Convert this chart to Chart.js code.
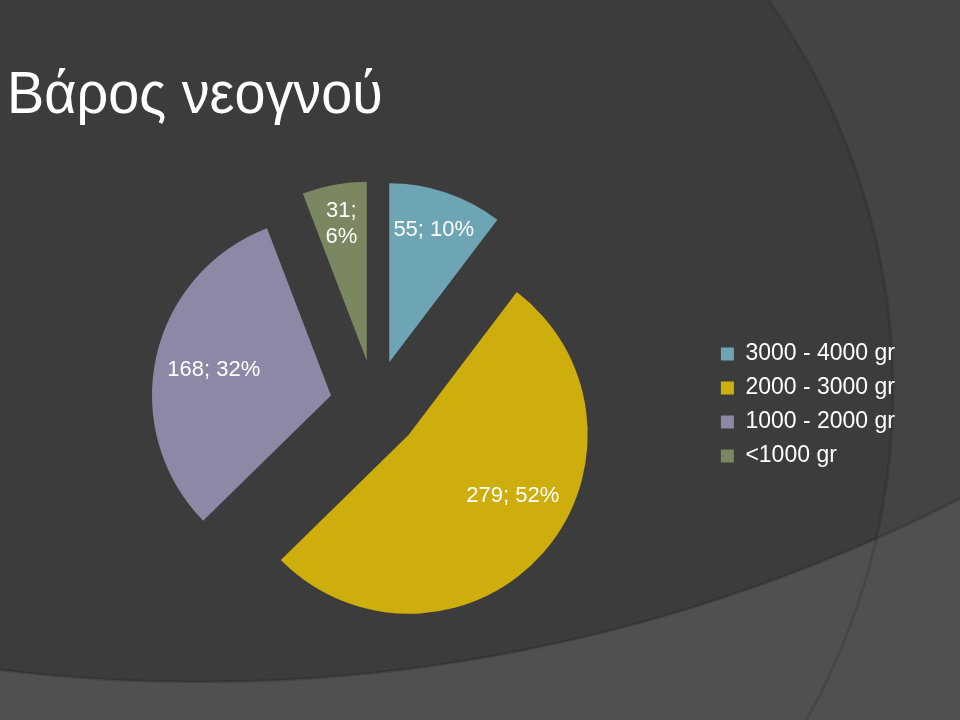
<!DOCTYPE html>
<html lang="el">
<head>
    <meta charset="UTF-8">
    <title>Βάρος νεογνού</title>
    <script src="https://cdn.jsdelivr.net/npm/chart.js"></script>
    <style>
        html, body {
            margin: 0;
            padding: 0;
            width: 960px;
            height: 720px;
            overflow: hidden;
            background-color: #3c3c3c;
        }
        .slide {
            position: relative;
            width: 960px;
            height: 720px;
        }
        #weightChart {
            position: absolute;
            left: 0;
            top: 0;
        }
        h1 {
            position: absolute;
            left: 7px;
            top: 63px;
            margin: 0;
            font: normal 60px/60px 'Liberation Sans', Arial, sans-serif;
            color: #fff;
            transform: scaleX(0.93);
            transform-origin: left top;
        }
    </style>
</head>
<body>
    <div class="slide">
        <canvas id="weightChart" width="960" height="720"></canvas>
        <h1>Βάρος νεογνού</h1>
    </div>
    <script>
        // data
        const categories = ['3000 - 4000 gr', '2000 - 3000 gr', '1000 - 2000 gr', '<1000 gr'];
        const births = [55, 279, 168, 31];
        const sliceColors = ['#6ea5b5', '#ceae0c', '#8c88a6', '#7a8760'];

        const EXPLODE = 45; // how far each slice is pulled out
        const FONT = "'Liberation Sans', Arial, sans-serif";

        // pie slice that is drawn pulled out along its middle angle
        class ExplodedArc extends Chart.ArcElement {
            draw(ctx) {
                const mid = (this.startAngle + this.endAngle) / 2;
                ctx.save();
                ctx.translate(Math.cos(mid) * EXPLODE, Math.sin(mid) * EXPLODE);
                super.draw(ctx);
                ctx.restore();
            }
        }
        ExplodedArc.id = 'explodedArc';

        class ExplodedPie extends Chart.PieController {}
        ExplodedPie.id = 'explodedPie';
        ExplodedPie.defaults = { dataElementType: 'explodedArc' };

        Chart.register(ExplodedArc, ExplodedPie);

        // slide background with the sweeping arcs
        const slideBackground = {
            id: 'slideBackground',
            beforeDraw(chart) {
                const { ctx, width, height } = chart;
                ctx.save();
                ctx.fillStyle = '#505050';
                ctx.fillRect(0, 0, width, height);
                ctx.beginPath();
                ctx.arc(200, -985, 1667, 0, Math.PI * 2);
                ctx.clip();
                ctx.fillStyle = '#444444';
                ctx.fillRect(0, 0, width, height);
                ctx.beginPath();
                ctx.arc(222, 390, 671, 0, Math.PI * 2);
                ctx.clip();
                ctx.fillStyle = '#3c3c3c';
                ctx.fillRect(0, 0, width, height);
                ctx.restore();

                // soft shadow along the arc edges
                ctx.save();
                ctx.strokeStyle = 'rgba(0, 0, 0, 0.12)';
                ctx.lineWidth = 3;
                ctx.beginPath();
                ctx.arc(222, 390, 671, 0, Math.PI * 2);
                ctx.stroke();
                ctx.beginPath();
                ctx.arc(200, -985, 1667, 0, Math.PI * 2);
                ctx.stroke();
                ctx.restore();
            }
        };

        // "value; percent" labels inside the slices
        const sliceLabels = {
            id: 'sliceLabels',
            afterDatasetsDraw(chart) {
                const ctx = chart.ctx;
                const meta = chart.getDatasetMeta(0);
                const total = births.reduce((a, b) => a + b, 0);
                ctx.save();
                ctx.fillStyle = '#fff';
                ctx.font = '22px ' + FONT;
                ctx.textAlign = 'center';
                ctx.textBaseline = 'middle';
                meta.data.forEach((arc, i) => {
                    const { x, y, startAngle, endAngle, outerRadius } =
                        arc.getProps(['x', 'y', 'startAngle', 'endAngle', 'outerRadius'], true);
                    const share = births[i] / total;
                    // big slices: label sits a little ahead of the middle angle
                    const mid = (startAngle + endAngle) / 2 - (share > 0.4 ? 0.14 : 0);
                    const dist = EXPLODE + outerRadius * (share < 0.15 ? 0.78 : 0.67);
                    const lx = x + Math.cos(mid) * dist;
                    const ly = y + Math.sin(mid) * dist;
                    const pct = Math.round(share * 100) + '%';
                    if (share < 0.08) {
                        ctx.fillText(births[i] + ';', lx, ly - 13);
                        ctx.fillText(pct, lx, ly + 13);
                    } else {
                        ctx.fillText(births[i] + '; ' + pct, lx, ly);
                    }
                });
                ctx.restore();
            }
        };

        new Chart(document.getElementById('weightChart'), {
            type: 'explodedPie',
            data: {
                labels: categories,
                datasets: [{
                    data: births,
                    backgroundColor: sliceColors,
                    borderWidth: 0,
                    clip: false
                }]
            },
            options: {
                responsive: false,
                animation: false,
                layout: {
                    padding: { top: 226, bottom: 136, left: 40, right: 55 }
                },
                plugins: {
                    tooltip: { enabled: false },
                    legend: {
                        position: 'right',
                        align: 'center',
                        labels: {
                            color: '#fff',
                            font: { family: FONT, size: 23 },
                            boxWidth: 13,
                            boxHeight: 13,
                            padding: 11
                        }
                    }
                }
            },
            plugins: [slideBackground, sliceLabels]
        });
    </script>
</body>
</html>
